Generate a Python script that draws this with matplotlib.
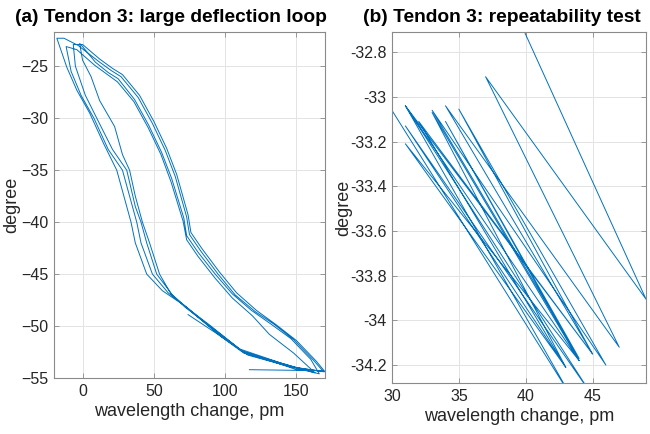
import numpy as np
import matplotlib
matplotlib.use("Agg")
import matplotlib.pyplot as plt

plt.rcParams['font.family'] = ['Liberation Sans', 'DejaVu Sans']

# (a) large deflection loop: wavelength change (pm) and angle (degree), traced in order
loop_pm = [74, 96, 113, 145, 169,
           # up 1
           162, 148, 134, 121, 107, 95, 83, 75, 73, 65, 58, 49, 39, 27, 20, 11, -3, -13,
           # down 1
           -18, -11, -4, 5, 15, 24, 30, 34, 37, 45, 56, 70, 90, 110, 140, 163,
           # up 2
           148, 131, 119, 105, 93, 81, 73, 70.5, 62, 55, 46, 36, 24.5, 17.5, 8.5, -4, -11.5,
           # down 2
           -8, -1, 8, 18, 28, 34, 38, 41, 49, 60, 74, 93, 113, 150, 170,
           # up 3
           164, 150, 136, 122, 108, 96, 84, 76, 74, 66, 59, 50, 40, 28, 21, 12, 0, -6.5,
           # down 3
           -5, 2, 10, 21, 31, 37, 41, 45, 52, 63, 77, 97, 116, 145, 166,
           # up 4
           160, 146, 132, 118.5, 105, 93, 81, 73, 71, 62.5, 55.5, 46.5, 36.5, 25, 18, 9, 0, -2,
           # down 4
           0, 6, 12, 22.5, 28, 33, 37, 42, 47, 54, 62, 72, 92, 112, 150, 169, 117]
loop_deg = [-48.9, -50.9, -52.6, -53.9, -54.4,
            -53.3, -51.3, -49.8, -48.6, -47.0, -45.0, -42.8, -41.2, -39.5, -35.6, -33.1, -30.5, -28.0, -26.0, -25.4, -24.5, -23.0, -22.3,
            -22.3, -25.1, -27.3, -29.5, -32.5, -35.0, -38.0, -40.0, -42.0, -45.0, -46.6, -47.9, -50.0, -52.2, -53.6, -54.5,
            -52.6, -50.8, -49.0, -47.3, -45.4, -43.3, -41.7, -39.9, -36.1, -33.5, -30.9, -28.4, -26.5, -25.8, -24.9, -23.4, -23.1,
            -25.5, -27.8, -30.0, -33.0, -35.0, -38.0, -40.0, -42.0, -45.0, -46.8, -48.3, -50.5, -52.5, -54.0, -54.4,
            -53.4, -51.4, -49.9, -48.5, -46.8, -44.8, -42.6, -41.0, -39.3, -35.4, -32.9, -30.3, -27.8, -25.8, -25.2, -24.3, -22.9, -22.9,
            -25.0, -27.8, -30.0, -33.0, -35.0, -38.5, -40.0, -42.0, -45.0, -47.0, -48.7, -51.0, -52.8, -53.9, -54.6,
            -53.2, -51.2, -49.8, -48.5, -46.9, -45.0, -42.9, -41.3, -39.6, -35.8, -33.3, -30.7, -28.2, -26.2, -25.6, -24.6, -23.1, -22.8,
            -24.4, -26.0, -28.3, -30.8, -33.5, -35.0, -37.5, -40.0, -42.0, -45.0, -46.9, -48.2, -50.3, -52.4, -54.2, -54.3, -54.2]

# (b) repeatability test, zoomed view of the back-and-forth path
rep_pm = [39, 49, 37, 47, 34, 45, 35, 46, 33, 44, 34, 44, 33, 43, 32, 45,
          31, 44.8, 31, 43, 31, 44, 31, 43.3, 28]
rep_deg = [-32.59, -33.905, -32.91, -34.12, -33.04, -34.15, -33.055, -34.20,
           -33.06, -34.17, -33.11, -34.18, -33.07, -34.21, -33.11, -34.15,
           -33.04, -34.32, -33.13, -34.21, -33.21, -34.18, -33.04, -34.33, -32.87]

line_col = '#0072BD'
ax_col = '#262626'

fig = plt.figure(figsize=(6.5, 4.34), dpi=100)
ax1 = fig.add_axes([54/650, 1-378/434, 271/650, 346/434])
ax2 = fig.add_axes([392/650, 1-383/434, 254/650, 351/434])

ax1.plot(loop_pm, loop_deg, color=line_col, lw=0.7)
ax2.plot(rep_pm, rep_deg, color=line_col, lw=0.7)

ax1.set_xlim(-20, 170)
ax1.set_ylim(-55, -21.7)
ax1.set_xticks([0, 50, 100, 150])
ax1.set_yticks([-55, -50, -45, -40, -35, -30, -25])

ax2.set_xlim(30, 49)
ax2.set_ylim(-34.28, -32.71)
ax2.set_xticks([30, 35, 40, 45])
ax2.set_yticks([-34.2, -34.0, -33.8, -33.6, -33.4, -33.2, -33.0, -32.8])
ax2.set_yticklabels(['-34.2', '-34', '-33.8', '-33.6', '-33.4', '-33.2', '-33', '-32.8'])

for ax, title in [(ax1, '(a) Tendon 3: large deflection loop'),
                  (ax2, '(b) Tendon 3: repeatability test')]:
    ax.grid(True, color='#e3e3e3', lw=0.7)
    ax.set_axisbelow(True)
    for s in ax.spines.values():
        s.set_color('#8a8a8a')
        s.set_linewidth(0.8)
    ax.tick_params(direction='in', length=3.5, width=0.6, color='#8a8a8a',
                   top=True, right=True, labelsize=11.5, labelcolor=ax_col, pad=4)
    ax.set_xlabel('wavelength change, pm', fontsize=13, color=ax_col, labelpad=3)
    ax.set_title(title, fontsize=13.8, fontweight='bold', color='black', pad=7.5, x=0.432)

ax1.set_ylabel('degree', fontsize=13, color=ax_col, labelpad=1)
ax2.set_ylabel('degree', fontsize=13, color=ax_col, labelpad=-2)

fig.savefig('out.png', dpi=100)
